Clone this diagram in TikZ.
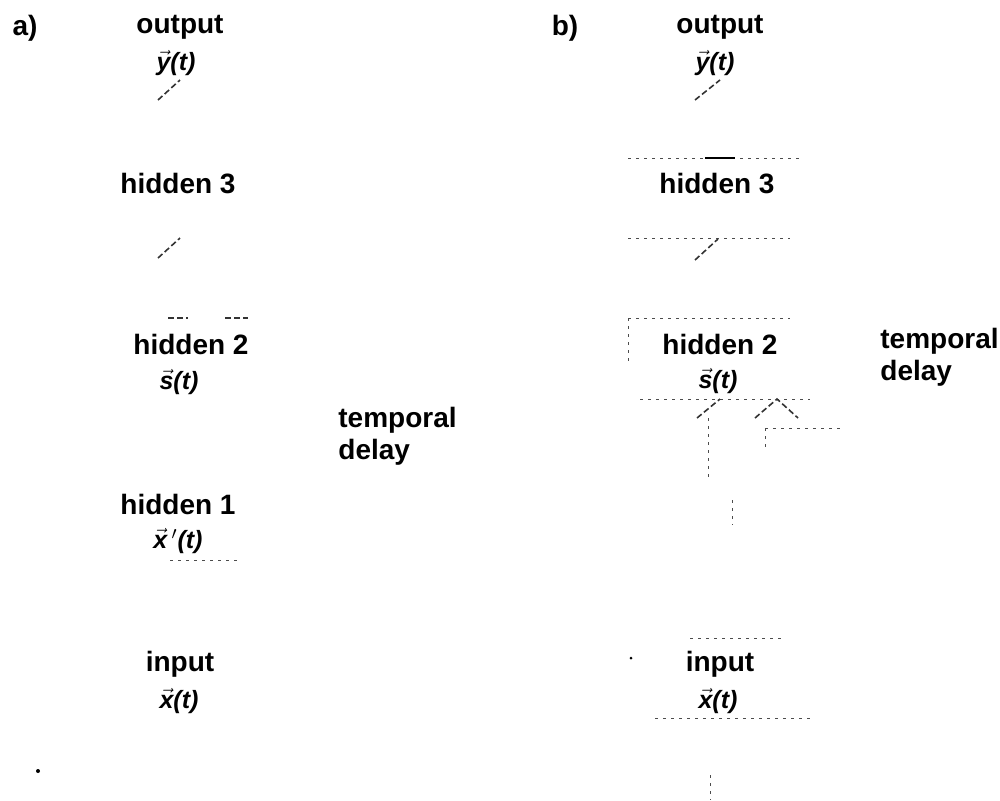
\documentclass[tikz,border=0pt]{standalone}
\usepackage{amsmath}
\usepackage{fontspec}
\setmainfont{Liberation Sans}
\newcommand{\myvec}[1]{\ensuremath{\vec{\textbf{\textit{#1}}}}}
\begin{document}
\begin{tikzpicture}[x=0.5pt,y=-0.5pt,
  lab/.style={font=\fontsize{14}{16}\selectfont\bfseries, inner sep=0pt},
  var/.style={font=\fontsize{12.5}{15}\selectfont\bfseries\itshape, inner sep=0pt},
  faint/.style={line width=0.5pt, black!70, dash pattern=on 1.5pt off 2.5pt},
  stroke/.style={line width=0.8pt, black!80, dash pattern=on 3pt off 1.5pt}]
\useasboundingbox (0,0) rectangle (1000,800);
% panel a
\node[lab] (pa) at (25,28) {a)};
\node[lab] (aout) at (180,27) {output};
\node[var] (ay) at (176,63) {\myvec{y}(\textit{t})};
\node[lab] (ah3) at (178,184) {hidden 3};
\node[lab] (ah2) at (191,344) {hidden 2};
\node[var] (as) at (179,382) {\myvec{s}(\textit{t})};
\node[lab, align=left, anchor=west] (adel) at (338,436) {temporal\\delay};
\node[lab] (ah1) at (178,504) {hidden 1};
\node[var] (ax1) at (178,541) {\myvec{x}\,$'$(\textit{t})};
\node[lab] (ain) at (180,664) {input};
\node[var] (ax) at (179,701) {\myvec{x}(\textit{t})};
\fill (38,771) circle (2);
% faint remnants panel a
\coordinate (a1) at (158,100); \coordinate (a2) at (180,80);
\draw[stroke] (a1) -- (a2);
\coordinate (a3) at (158,258); \coordinate (a4) at (180,238);
\draw[stroke] (a3) -- (a4);
\coordinate (a5) at (168,318); \coordinate (a6) at (188,318);
\coordinate (a7) at (225,318); \coordinate (a8) at (248,318);
\draw[stroke] (a5) -- (a6); \draw[stroke] (a7) -- (a8);
\coordinate (a9) at (170,560); \coordinate (a10) at (238,560);
\draw[faint] (a9) -- (a10);
% panel b
\node[lab] (pb) at (565,28) {b)};
\node[lab] (bout) at (720,27) {output};
\node[var] (by) at (715,63) {\myvec{y}(\textit{t})};
\node[lab] (bh3) at (717,184) {hidden 3};
\node[lab] (bh2) at (720,344) {hidden 2};
\node[var] (bs) at (718,381) {\myvec{s}(\textit{t})};
\node[lab, align=left, anchor=west] (bdel) at (880,357) {temporal\\delay};
\node[lab] (bin) at (720,664) {input};
\node[var] (bx) at (718,701) {\myvec{x}(\textit{t})};
\fill (631,658) circle (1.5);
% faint remnants panel b
\coordinate (b1) at (695,100); \coordinate (b2) at (720,80);
\draw[stroke] (b1) -- (b2);
\coordinate (b3) at (628,158); \coordinate (b4) at (800,158);
\draw[faint] (b3) -- (b4);
\coordinate (b3a) at (705,158); \coordinate (b3b) at (735,158);
\draw[line width=1pt] (b3a) -- (b3b);
\coordinate (b5) at (628,238); \coordinate (b6) at (790,238);
\draw[faint] (b5) -- (b6);
\coordinate (b7) at (695,260); \coordinate (b8) at (718,239);
\draw[stroke] (b7) -- (b8);
\coordinate (b9) at (628,318); \coordinate (b10) at (790,318);
\draw[faint] (b9) -- (b10);
\coordinate (b11) at (628,365);
\draw[faint] (b9) -- (b11);
\coordinate (b12) at (640,399); \coordinate (b13) at (810,399);
\draw[faint] (b12) -- (b13);
\coordinate (b14) at (697,418); \coordinate (b15) at (720,399);
\draw[stroke] (b14) -- (b15);
\coordinate (b16) at (755,418); \coordinate (b17) at (777,399); \coordinate (b18) at (798,418);
\draw[stroke] (b16) -- (b17) -- (b18);
\coordinate (b19) at (708,418); \coordinate (b20) at (708,478);
\draw[faint] (b19) -- (b20);
\coordinate (b21) at (765,428); \coordinate (b22) at (840,428);
\draw[faint] (b21) -- (b22);
\coordinate (b23) at (765,428); \coordinate (b24) at (765,450);
\draw[faint] (b23) -- (b24);
\coordinate (b25) at (732,500); \coordinate (b26) at (732,525);
\draw[faint] (b25) -- (b26);
\coordinate (b27) at (690,638); \coordinate (b28) at (782,638);
\draw[faint] (b27) -- (b28);
\coordinate (b29) at (655,718); \coordinate (b30) at (810,718);
\draw[faint] (b29) -- (b30);
\coordinate (b31) at (710,775); \coordinate (b32) at (710,800);
\draw[faint] (b31) -- (b32);
\end{tikzpicture}
\end{document}
